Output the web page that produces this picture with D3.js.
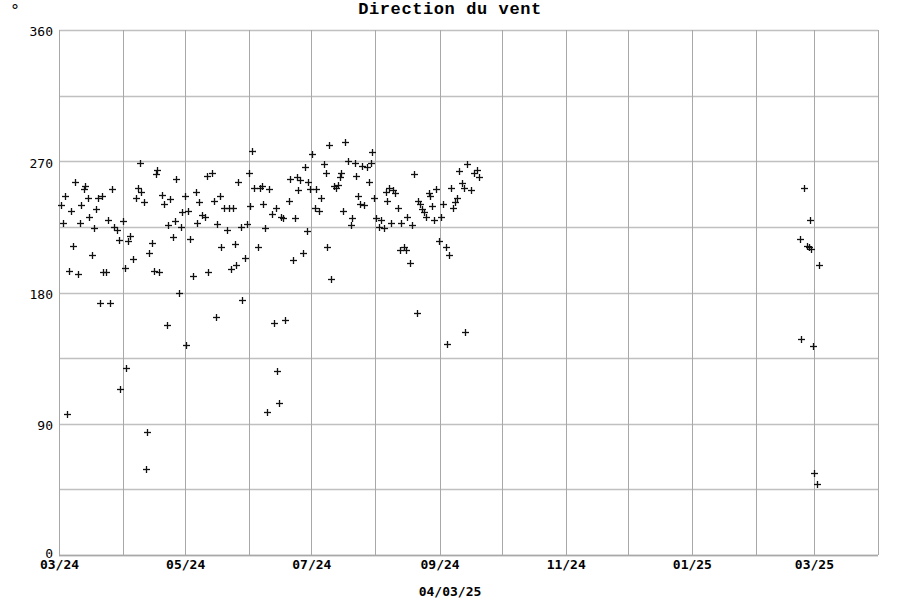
<!DOCTYPE html>
<html>
<head>
<meta charset="utf-8">
<script src="https://cdn.jsdelivr.net/npm/d3@7"></script>
<style>
  html, body { margin: 0; padding: 0; background: #fff; }
  svg { display: block; }
</style>
</head>
<body>
<svg id="chart" width="900" height="600"></svg>
<script>
// ---- Data ----
const title = "Direction du vent";
const unitLabel = "°";
const dateLabel = "04/03/25";
const yTickValues = [0, 90, 180, 270, 360];
const yGridValues = [0, 45, 90, 135, 180, 225, 270, 315, 360];
const xTickFormat = "%m/%y";

// observation time ("YYYY-MM-DD HH") and wind direction (degrees)
const times = [
  "2024-03-02 00","2024-03-03 00","2024-03-04 00","2024-03-05 00","2024-03-06 00","2024-03-07 00","2024-03-08 00","2024-03-08 12",
  "2024-03-10 00","2024-03-11 00","2024-03-11 12","2024-03-13 00","2024-03-13 12","2024-03-15 00","2024-03-15 12","2024-03-17 00",
  "2024-03-18 00","2024-03-19 00","2024-03-20 00","2024-03-21 00","2024-03-22 00","2024-03-22 12","2024-03-23 12","2024-03-24 12",
  "2024-03-25 12","2024-03-26 12","2024-03-27 12","2024-03-29 00","2024-03-30 00","2024-03-30 12","2024-04-01 00","2024-04-02 00",
  "2024-04-02 12","2024-04-03 12","2024-04-04 12","2024-04-06 00","2024-04-07 00","2024-04-08 00","2024-04-09 00","2024-04-09 12",
  "2024-04-11 00","2024-04-12 00","2024-04-12 12","2024-04-13 12","2024-04-15 00","2024-04-16 00","2024-04-17 00","2024-04-17 12",
  "2024-04-18 12","2024-04-20 00","2024-04-21 00","2024-04-22 00","2024-04-22 12","2024-04-23 12","2024-04-25 00","2024-04-26 00",
  "2024-04-26 12","2024-04-28 00","2024-04-29 00","2024-04-29 12","2024-05-01 00","2024-05-01 12","2024-05-02 12","2024-05-03 12",
  "2024-05-05 00","2024-05-06 00","2024-05-06 12","2024-05-07 12","2024-05-09 00","2024-05-10 12","2024-05-11 12","2024-05-12 00",
  "2024-05-14 00","2024-05-15 00","2024-05-16 00","2024-05-16 12","2024-05-18 00","2024-05-18 12","2024-05-20 00","2024-05-21 00",
  "2024-05-22 00","2024-05-23 00","2024-05-24 00","2024-05-25 00","2024-05-25 12","2024-05-26 12","2024-05-28 00","2024-05-28 12",
  "2024-05-30 00","2024-05-31 00","2024-06-01 00","2024-06-01 12","2024-06-02 12","2024-06-03 12","2024-06-05 00","2024-06-06 00",
  "2024-06-07 00","2024-06-07 12","2024-06-08 12","2024-06-09 12","2024-06-10 12","2024-06-12 00","2024-06-13 00","2024-06-14 00",
  "2024-06-14 12","2024-06-15 12","2024-06-16 12","2024-06-17 12","2024-06-18 12","2024-06-20 00","2024-06-20 12","2024-06-22 00",
  "2024-06-23 00","2024-06-24 00","2024-06-24 12","2024-06-25 12","2024-06-27 00","2024-06-28 00","2024-06-29 00","2024-06-29 12",
  "2024-06-30 12","2024-07-01 12","2024-07-03 00","2024-07-03 12","2024-07-04 12","2024-07-05 12","2024-07-07 00","2024-07-08 00",
  "2024-07-08 12","2024-07-09 12","2024-07-10 12","2024-07-12 00","2024-07-13 00","2024-07-14 00","2024-07-15 00","2024-07-15 12",
  "2024-07-16 12","2024-07-17 12","2024-07-18 12","2024-07-20 00","2024-07-20 12","2024-07-22 00","2024-07-22 12","2024-07-23 12",
  "2024-07-24 12","2024-07-25 12","2024-07-26 12","2024-07-28 00","2024-07-29 00","2024-07-30 00","2024-07-30 12","2024-07-31 12",
  "2024-08-01 12","2024-08-02 12","2024-08-03 12","2024-08-05 00","2024-08-06 00","2024-08-06 12","2024-08-07 12","2024-08-08 12",
  "2024-08-09 12","2024-08-10 12","2024-08-12 00","2024-08-13 00","2024-08-13 12","2024-08-15 00","2024-08-16 00","2024-08-16 12",
  "2024-08-17 12","2024-08-18 12","2024-08-19 12","2024-08-21 00","2024-08-21 12","2024-08-22 12","2024-08-23 12","2024-08-24 12",
  "2024-08-25 12","2024-08-27 00","2024-08-27 12","2024-08-28 12","2024-08-29 12","2024-08-30 12","2024-08-31 12","2024-09-01 12",
  "2024-09-02 12","2024-09-04 00","2024-09-04 12","2024-09-05 12","2024-09-06 12","2024-09-07 12","2024-09-08 12","2024-09-09 12",
  "2024-09-10 12","2024-09-12 00","2024-09-13 00","2024-09-13 12","2024-09-14 12","2024-09-16 00","2024-09-17 12","2024-09-19 00",
  "2024-09-20 00",
  "2025-02-22 12","2025-02-23 00","2025-02-24 00","2025-02-25 12","2025-02-26 12","2025-02-27 00","2025-02-27 12","2025-02-28 12",
  "2025-03-01 00","2025-03-02 12","2025-03-03 12"
];
const directions = [
  240,228,246,97,195,236,212,256,
  193,228,240,251,253,245,232,206,
  224,237,245,173,246,194,194,230,
  173,251,225,223,216,114,229,197,
  128,215,219,203,245,252,269,249,
  242,59,84,207,214,195,261,264,
  194,247,241,158,226,244,218,229,
  258,180,225,235,246,144,236,217,
  191,249,228,242,233,232,260,194,
  262,243,163,227,246,211,238,223,
  238,196,238,213,199,256,225,175,
  204,227,262,239,277,252,211,252,
  253,241,224,98,251,234,159,238,
  126,104,232,231,161,243,258,202,
  231,259,250,257,207,266,222,256,
  251,275,238,251,236,245,268,262,
  211,281,189,253,252,254,259,262,
  236,283,270,226,231,269,260,246,
  241,267,240,266,256,269,276,245,
  231,225,230,224,249,243,252,228,
  250,248,238,209,228,211,209,232,
  200,226,261,166,243,241,237,235,
  232,248,246,239,230,251,215,232,
  241,211,145,206,252,238,242,245,
  263,255,252,153,268,250,262,264,
  259,
  217,148,252,212,211,230,210,143,
  56,49,199
];

// ---- Layout ----
const W = 900, H = 600;
const margin = { left: 59, right: 22, top: 30, bottom: 45 };
const plotW = W - margin.left - margin.right; // 819
const plotH = H - margin.top - margin.bottom; // 525

const parse = d3.timeParse("%Y-%m-%d %H");
const data = times.map((t, i) => ({ t: parse(t), v: directions[i] }));

const x = d3.scaleTime()
  .domain([new Date(2024, 2, 1), new Date(2025, 3, 1)])
  .range([margin.left, margin.left + plotW]);
const y = d3.scaleLinear()
  .domain([0, 360])
  .range([margin.top + plotH, margin.top]);

const svg = d3.select("#chart");

// horizontal grid
svg.append("g")
  .selectAll("line")
  .data(yGridValues)
  .join("line")
  .attr("x1", margin.left).attr("x2", margin.left + plotW)
  .attr("y1", d => Math.round(y(d)) + 0.5).attr("y2", d => Math.round(y(d)) + 0.5)
  .attr("stroke", "#c0c0c0").attr("stroke-width", 1.4);

// vertical grid (every month)
const months = x.ticks(d3.timeMonth.every(1));
svg.append("g")
  .selectAll("line")
  .data(months.concat([x.domain()[1]]))
  .join("line")
  .attr("x1", d => Math.round(x(d)) + 0.5).attr("x2", d => Math.round(x(d)) + 0.5)
  .attr("y1", margin.top).attr("y2", margin.top + plotH)
  .attr("stroke", "#a8a8a8").attr("stroke-width", 1);

// frame bottom line
svg.append("line")
  .attr("x1", margin.left).attr("x2", margin.left + plotW)
  .attr("y1", margin.top + plotH + 0.5).attr("y2", margin.top + plotH + 0.5)
  .attr("stroke", "#a8a8a8").attr("stroke-width", 1.5);

// y axis labels
const yAxis = d3.axisLeft(y).tickValues(yTickValues).tickSize(0).tickPadding(5);
const gy = svg.append("g").attr("transform", `translate(${margin.left - 1},0)`).call(yAxis);
gy.select(".domain").remove();
gy.selectAll("text")
  .attr("font-family", "'DejaVu Sans Mono', monospace")
  .attr("font-size", 13)
  .attr("fill", "#000")
  .attr("dy", d => d === 0 ? "0.2em" : "0.45em");

// x axis labels (every two months)
const xAxis = d3.axisBottom(x)
  .tickValues(d3.timeMonth.every(2).range(new Date(2024, 2, 1), new Date(2025, 3, 2)))
  .tickFormat(d3.timeFormat(xTickFormat))
  .tickSize(0).tickPadding(5);
const gx = svg.append("g").attr("transform", `translate(0,${margin.top + plotH})`).call(xAxis);
gx.select(".domain").remove();
gx.selectAll("text")
  .attr("font-family", "'DejaVu Sans Mono', monospace")
  .attr("font-size", 13)
  .attr("font-weight", "bold")
  .attr("fill", "#000");

// markers: "+" crosses
const arm = 3.5;
const pts = svg.append("g").selectAll("g")
  .data(data)
  .join("g")
  .attr("transform", d => `translate(${Math.round(x(d.t)) + 0.5},${Math.round(y(d.v)) + 0.5})`);
pts.append("line").attr("x1", -arm).attr("x2", arm).attr("y1", 0).attr("y2", 0)
  .attr("stroke", "#111").attr("stroke-width", 1.3);
pts.append("line").attr("x1", 0).attr("x2", 0).attr("y1", -arm).attr("y2", arm)
  .attr("stroke", "#111").attr("stroke-width", 1.3);

// title
svg.append("text")
  .attr("x", 450).attr("y", 14)
  .attr("text-anchor", "middle")
  .attr("font-family", "'Liberation Mono', 'Courier New', monospace")
  .attr("font-weight", "bold")
  .attr("font-size", 17)
  .attr("letter-spacing", 0.6)
  .attr("fill", "#000")
  .text(title);

// unit
svg.append("text")
  .attr("x", 11).attr("y", 16)
  .attr("font-family", "'DejaVu Sans', sans-serif")
  .attr("font-size", 16)
  .attr("fill", "#000")
  .text(unitLabel);

// date label
svg.append("text")
  .attr("x", 450).attr("y", 596)
  .attr("text-anchor", "middle")
  .attr("font-family", "'DejaVu Sans Mono', monospace")
  .attr("font-size", 13)
  .attr("font-weight", "bold")
  .attr("fill", "#000")
  .text(dateLabel);
</script>
</body>
</html>
